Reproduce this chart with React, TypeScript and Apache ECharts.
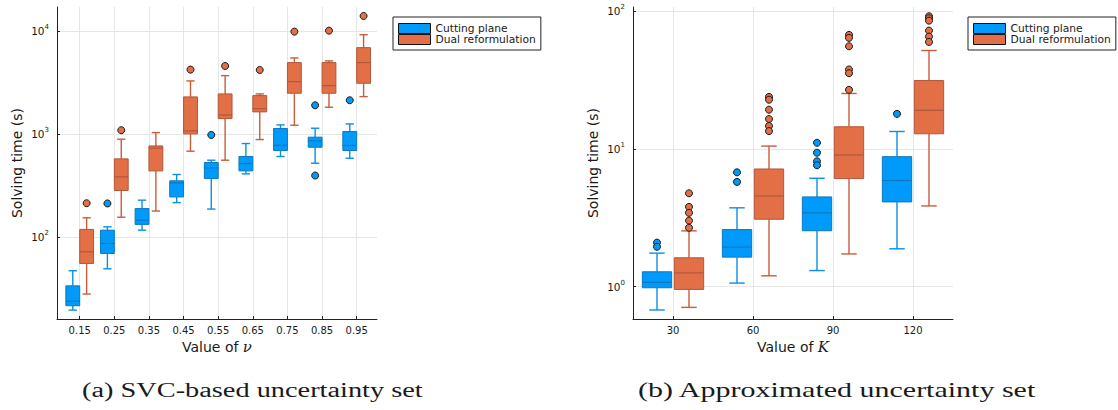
import React, { useEffect, useRef } from 'react';
import * as echarts from 'echarts';

// ---------- Data (a) SVC-based uncertainty set ----------
const nuValues = [0.15, 0.25, 0.35, 0.45, 0.55, 0.65, 0.75, 0.85, 0.95];
const nuTickLabels = ['0.15', '0.25', '0.35', '0.45', '0.55', '0.65', '0.75', '0.85', '0.95'];
// [lower whisker, Q1, median, Q3, upper whisker]
const svcCuttingStats = [
  [19.4, 21.4, 23.7, 33.4, 46.8],
  [48.9, 68.9, 86.2, 116, 125],
  [116, 132, 145, 188, 227],
  [215, 244, 334, 350, 403],
  [186, 368, 468, 527, 555],
  [409, 437, 515, 603, 806],
  [603, 689, 776, 1127, 1223],
  [519, 742, 855, 929, 1135],
  [580, 689, 771, 1054, 1250],
];
const svcDualStats = [
  [27.8, 55.1, 71.5, 118, 153],
  [155, 282, 383, 572, 888],
  [178, 437, 726, 764, 1030],
  [679, 1000, 1069, 2287, 3270],
  [555, 1408, 1528, 2445, 3681],
  [881, 1636, 1762, 2355, 2445],
  [1214, 2483, 3221, 4931, 5470],
  [1815, 2483, 2944, 4931, 5117],
  [2303, 3104, 4931, 6890, 9206],
];
// [category index, value]
const svcCuttingOutliers = [[1, 211], [4, 977], [7, 1897], [7, 394], [8, 2123]];
const svcDualOutliers = [[0, 212], [1, 1086], [3, 4213], [4, 4571], [5, 4180], [6, 9858], [7, 10076], [8, 13990]];
const svcYTicks = [100, 1000, 10000];

// ---------- Data (b) Approximated uncertainty set ----------
const kValues = [30, 60, 90, 120];
const kTickLabels = ['30', '60', '90', '120'];
const approxCuttingStats = [
  [0.678, 0.983, 1.075, 1.284, 1.754],
  [1.063, 1.64, 1.94, 2.6, 3.74],
  [1.31, 2.55, 3.44, 4.49, 6.13],
  [1.885, 4.13, 5.9, 8.8, 13.4],
];
const approxDualStats = [
  [0.708, 0.956, 1.26, 1.622, 2.545],
  [1.2, 3.09, 4.56, 7.16, 10.5],
  [1.73, 6.1, 9.05, 14.5, 25.3],
  [3.86, 12.9, 19.1, 31.4, 51.9],
];
const approxCuttingOutliers = [[0, 2.09], [0, 1.95], [1, 6.77], [1, 5.77], [2, 11.1], [2, 9.4], [2, 8.14], [2, 7.62], [3, 18.0]];
const approxDualOutliers = [
  [0, 4.77], [0, 3.8], [0, 3.44], [0, 3.02], [0, 2.68],
  [1, 23.9], [1, 22.8], [1, 19.3], [1, 16.5], [1, 14.7], [1, 13.5],
  [2, 67.4], [2, 64.1], [2, 55.7], [2, 37.8], [2, 35.5], [2, 26.9],
  [3, 92.0], [3, 89.0], [3, 85.5], [3, 72.4], [3, 65.5], [3, 59.9],
];
const approxYTicks = [1, 10, 100];

const seriesNames = ['Cutting plane', 'Dual reformulation'];
const captions = ['(a) SVC-based uncertainty set', '(b) Approximated uncertainty set'];

// ---------- Styles ----------
const BLUE = '#009AFA';
const BLUE_EDGE = '#0b79c0';
const BLUE_WHISK = '#0a8fe6';
const ORANGE = '#E26F46';
const ORANGE_EDGE = '#b1573a';
const ORANGE_WHISK = '#c95c3a';
const FONT = 'DejaVu Sans';
const TXT = '#1a1a1a';
const GRIDLINE = '#e6e6e6';

function boxRenderer(halfW: number, capHalf: number, fill: string, edge: string, whisk: string) {
  return (params: any, api: any) => {
    const x = api.value(0);
    const mn = api.value(1), q1 = api.value(2), md = api.value(3), q3 = api.value(4), mx = api.value(5);
    const pMin = api.coord([x, mn]);
    const pMax = api.coord([x, mx]);
    const pQ1L = api.coord([x - halfW, q1]);
    const pQ3R = api.coord([x + halfW, q3]);
    const pMedL = api.coord([x - halfW, md]);
    const pMedR = api.coord([x + halfW, md]);
    const cL = api.coord([x - capHalf, mn])[0];
    const cR = api.coord([x + capHalf, mn])[0];
    const cx = pMin[0];
    const ws = { stroke: whisk, lineWidth: 1.4 };
    return {
      type: 'group',
      children: [
        { type: 'line', shape: { x1: cx, y1: pMin[1], x2: cx, y2: pQ1L[1] }, style: ws },
        { type: 'line', shape: { x1: cx, y1: pQ3R[1], x2: cx, y2: pMax[1] }, style: ws },
        { type: 'line', shape: { x1: cL, y1: pMin[1], x2: cR, y2: pMin[1] }, style: ws },
        { type: 'line', shape: { x1: cL, y1: pMax[1], x2: cR, y2: pMax[1] }, style: ws },
        {
          type: 'rect',
          shape: { x: pQ1L[0], y: pQ3R[1], width: pQ3R[0] - pQ1L[0], height: pQ1L[1] - pQ3R[1] },
          style: { fill, stroke: edge, lineWidth: 1 },
        },
        { type: 'line', shape: { x1: pMedL[0], y1: pMedL[1], x2: pMedR[0], y2: pMedR[1] }, style: { stroke: edge, lineWidth: 1.2 } },
      ],
    };
  };
}

function boxData(xs: number[], stats: number[][], off: number) {
  return stats.map((s, i) => [xs[i] + off, ...s]);
}
function outlierData(xs: number[], pts: number[][], off: number) {
  return pts.map(([i, v]) => [xs[i] + off, v]);
}

function supLabel(v: number) {
  return '{b|10}{s|' + Math.round(Math.log10(v)) + '}';
}

const axisNameRich = {
  a: { fontSize: 14, fontFamily: FONT, color: TXT },
  v: { fontSize: 15, fontFamily: 'DejaVu Serif', fontStyle: 'italic', color: TXT },
};

function xAxisCfg(gridIndex: number, min: number, max: number, ticks: number[], labels: string[], varName: string) {
  return {
    type: 'value',
    gridIndex,
    min,
    max,
    name: '{a|Value of }{v|' + varName + '}',
    nameLocation: 'middle',
    nameGap: 17,
    nameTextStyle: { rich: axisNameRich },
    axisLine: { show: true, onZero: false, lineStyle: { color: '#222', width: 1 } },
    axisTick: { show: true, inside: true, length: 3, customValues: ticks, lineStyle: { color: '#222' } },
    axisLabel: {
      customValues: ticks,
      margin: 6,
      fontSize: 10,
      fontFamily: FONT,
      color: TXT,
      formatter: (v: number) => {
        const idx = ticks.findIndex((t) => Math.abs(t - v) < 1e-9);
        return idx >= 0 ? labels[idx] : '';
      },
    },
    splitLine: { show: true, lineStyle: { color: GRIDLINE, width: 1 } },
  };
}

function yAxisCfg(gridIndex: number, min: number, max: number, ticks: number[]) {
  return {
    type: 'log',
    logBase: 10,
    gridIndex,
    min,
    max,
    name: 'Solving time (s)',
    nameLocation: 'middle',
    nameGap: 33,
    nameRotate: 90,
    nameTextStyle: { fontSize: 14, fontFamily: FONT, color: TXT },
    axisLine: { show: true, lineStyle: { color: '#222', width: 1 } },
    axisTick: { show: true, inside: true, length: 3, customValues: ticks, lineStyle: { color: '#222' } },
    axisLabel: {
      customValues: ticks,
      margin: 8,
      formatter: supLabel,
      rich: {
        b: { fontSize: 10.5, fontFamily: FONT, color: TXT },
        s: { fontSize: 7, fontFamily: FONT, color: TXT, padding: [0, 0, 8, 0] },
      },
    },
    splitLine: { show: true, lineStyle: { color: GRIDLINE, width: 1 } },
    minorTick: { show: false },
    minorSplitLine: { show: false },
  };
}

function legendCfg(left: number) {
  return {
    show: true,
    left,
    top: 17,
    orient: 'vertical',
    data: seriesNames,
    icon: 'rect',
    itemWidth: 32,
    itemHeight: 10,
    itemGap: 0,
    padding: [6, 5, 5, 5],
    borderColor: '#222',
    borderWidth: 1,
    backgroundColor: '#fff',
    selectedMode: false,
    itemStyle: { borderColor: '#111', borderWidth: 1 },
    textStyle: { fontSize: 10.7, fontFamily: FONT, color: TXT },
  };
}

function measure(text: string, font: string) {
  const c = document.createElement('canvas').getContext('2d');
  if (!c) return 1;
  c.font = font;
  return c.measureText(text).width || 1;
}

export default function App() {
  const ref = useRef<HTMLDivElement>(null);
  useEffect(() => {
    if (!ref.current) return;
    const chart = echarts.init(ref.current, undefined, { renderer: 'svg' });
    const capFont = '20px "Liberation Serif"';
    const capTargets = [{ x: 82, w: 341 }, { x: 638, w: 399 }];

    const svcOff = 0.02, svcHalf = 0.02, svcCap = 0.012;
    const kOff = 6, kHalf = 5.5, kCap = 2.9;

    const outlierStyle = (c: string) => ({ color: c, borderColor: '#1a1a1a', borderWidth: 1, opacity: 1 });

    const option: any = {
      animation: false,
      backgroundColor: '#fff',
      grid: [
        { left: 57, top: 7, width: 320, height: 312, containLabel: false },
        { left: 633, top: 7, width: 320, height: 312, containLabel: false },
      ],
      xAxis: [
        xAxisCfg(0, 0.0844, 1.0087, nuValues, nuTickLabels, 'ν'),
        xAxisCfg(1, 15, 135, kValues, kTickLabels, 'K'),
      ],
      yAxis: [yAxisCfg(0, 15.9, 17100, svcYTicks), yAxisCfg(1, 0.583, 107.4, approxYTicks)],
      legend: [legendCfg(393), legendCfg(968)],
      series: [
        {
          type: 'custom', name: seriesNames[0], xAxisIndex: 0, yAxisIndex: 0,
          itemStyle: { color: BLUE },
          renderItem: boxRenderer(svcHalf, svcCap, BLUE, BLUE_EDGE, BLUE_WHISK),
          encode: { x: 0, y: [1, 2, 3, 4, 5] },
          data: boxData(nuValues, svcCuttingStats, -svcOff),
        },
        {
          type: 'custom', name: seriesNames[1], xAxisIndex: 0, yAxisIndex: 0,
          itemStyle: { color: ORANGE },
          renderItem: boxRenderer(svcHalf, svcCap, ORANGE, ORANGE_EDGE, ORANGE_WHISK),
          encode: { x: 0, y: [1, 2, 3, 4, 5] },
          data: boxData(nuValues, svcDualStats, svcOff),
        },
        {
          type: 'scatter', name: 'Cutting plane outliers', xAxisIndex: 0, yAxisIndex: 0,
          symbol: 'circle', symbolSize: 7, itemStyle: outlierStyle(BLUE),
          data: outlierData(nuValues, svcCuttingOutliers, -svcOff),
        },
        {
          type: 'scatter', name: 'Dual reformulation outliers', xAxisIndex: 0, yAxisIndex: 0,
          symbol: 'circle', symbolSize: 7, itemStyle: outlierStyle(ORANGE),
          data: outlierData(nuValues, svcDualOutliers, svcOff),
        },
        {
          type: 'custom', name: seriesNames[0], xAxisIndex: 1, yAxisIndex: 1,
          itemStyle: { color: BLUE },
          renderItem: boxRenderer(kHalf, kCap, BLUE, BLUE_EDGE, BLUE_WHISK),
          encode: { x: 0, y: [1, 2, 3, 4, 5] },
          data: boxData(kValues, approxCuttingStats, -kOff),
        },
        {
          type: 'custom', name: seriesNames[1], xAxisIndex: 1, yAxisIndex: 1,
          itemStyle: { color: ORANGE },
          renderItem: boxRenderer(kHalf, kCap, ORANGE, ORANGE_EDGE, ORANGE_WHISK),
          encode: { x: 0, y: [1, 2, 3, 4, 5] },
          data: boxData(kValues, approxDualStats, kOff),
        },
        {
          type: 'scatter', name: 'Cutting plane outliers', xAxisIndex: 1, yAxisIndex: 1,
          symbol: 'circle', symbolSize: 7, itemStyle: outlierStyle(BLUE),
          data: outlierData(kValues, approxCuttingOutliers, -kOff),
        },
        {
          type: 'scatter', name: 'Dual reformulation outliers', xAxisIndex: 1, yAxisIndex: 1,
          symbol: 'circle', symbolSize: 7, itemStyle: outlierStyle(ORANGE),
          data: outlierData(kValues, approxDualOutliers, kOff),
        },
      ],
      graphic: captions.map((t, i) => ({
        type: 'text',
        x: capTargets[i].x,
        y: 390,
        scaleX: capTargets[i].w / measure(t, capFont),
        style: {
          text: t,
          font: capFont,
          fill: '#1a1a1a',
          textAlign: 'left',
          textVerticalAlign: 'middle',
        },
      })),
    };
    chart.setOption(option);
    return () => chart.dispose();
  }, []);
  return <div ref={ref} style={{ position: 'absolute', left: 0, top: 0, width: 1118, height: 410 }} />;
}
